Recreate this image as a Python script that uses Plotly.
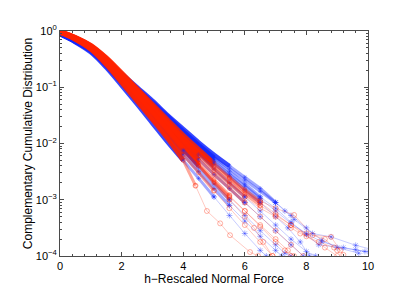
import plotly.graph_objects as go

# ---- data (y given as log10 of the CCDF value) ----
blue_x = [
    [0, .5, 1, 1.5, 2, 2.5, 3, 3.5, 4, 4.5, 5, 5.5, 6, 6.5, 7, 7.3, 7.6, 8.2, 8.8, 9.6, 10.1],
    [0, .5, 1, 1.5, 2, 2.5, 3, 3.5, 4, 4.5, 5, 5.5, 6, 6.5, 7, 7.5, 8.0, 8.4, 9.6, 10.05],
    [0, .5, 1, 1.5, 2, 2.5, 3, 3.5, 4, 4.5, 5, 5.5, 6, 6.5, 7, 7.4, 7.8, 8.1],
    [0, .5, 1, 1.5, 2, 2.5, 3, 3.5, 4, 4.5, 5, 5.5, 6, 6.5, 7, 7.5, 7.9],
    [0, .5, 1, 1.5, 2, 2.5, 3, 3.5, 4, 4.5, 5, 5.5, 6, 6.5, 7, 7.3, 7.5],
    [0, .5, 1, 1.5, 2, 2.5, 3, 3.5, 4, 4.5, 5, 5.5, 6, 6.5, 7, 7.5, 8, 8.5, 9, 9.7],
    [0, .5, 1, 1.5, 2, 2.5, 3, 3.5, 4, 4.5, 5, 5.5, 6, 6.5, 7, 7.5, 8.0, 8.3],
    [0, .5, 1, 1.5, 2, 2.5, 3, 3.5, 4, 4.5, 5, 5.5, 6, 6.5, 7, 7.2],
    [0, .5, 1, 1.5, 2, 2.5, 3, 3.5, 4, 4.5, 5, 5.5, 6, 6.5, 6.7],
    [0, .5, 1, 1.5, 2, 2.5, 3, 3.5, 4, 4.5, 5, 5.5, 6, 6.5, 7, 7.5, 8, 8.5, 9.2, 9.9],
]
blue_log10_ccdf = [
    [-0.04, -0.17, -0.31, -0.52, -0.76, -1.0, -1.24, -1.5, -1.74, -1.98, -2.2, -2.4, -2.6, -2.8, -3.05, -3.2, -3.35, -3.6, -3.66, -3.81, -3.88],
    [-0.05, -0.18, -0.33, -0.55, -0.8, -1.04, -1.3, -1.55, -1.8, -2.04, -2.28, -2.5, -2.72, -2.95, -3.15, -3.4, -3.62, -3.8, -3.89, -3.93],
    [-0.04, -0.17, -0.32, -0.55, -0.82, -1.08, -1.35, -1.62, -1.88, -2.12, -2.36, -2.58, -2.82, -3.05, -3.3, -3.5, -3.75, -4.0],
    [-0.05, -0.18, -0.34, -0.58, -0.86, -1.14, -1.42, -1.72, -2.0, -2.28, -2.55, -2.8, -3.05, -3.3, -3.55, -3.8, -4.0],
    [-0.05, -0.19, -0.35, -0.6, -0.9, -1.2, -1.5, -1.82, -2.12, -2.42, -2.72, -3.0, -3.28, -3.55, -3.8, -3.95, -4.0],
    [-0.04, -0.16, -0.31, -0.53, -0.78, -1.02, -1.27, -1.52, -1.78, -2.02, -2.25, -2.45, -2.65, -2.85, -3.05, -3.28, -3.5, -3.72, -3.85, -3.95],
    [-0.05, -0.18, -0.33, -0.56, -0.83, -1.1, -1.38, -1.66, -1.94, -2.2, -2.45, -2.7, -2.95, -3.2, -3.45, -3.7, -3.92, -4.0],
    [-0.05, -0.19, -0.36, -0.62, -0.92, -1.24, -1.56, -1.88, -2.2, -2.5, -2.8, -3.1, -3.38, -3.65, -3.9, -4.0],
    [-0.06, -0.2, -0.38, -0.65, -0.97, -1.3, -1.64, -1.98, -2.3, -2.62, -2.95, -3.28, -3.6, -3.9, -4.0],
    [-0.04, -0.17, -0.32, -0.54, -0.8, -1.05, -1.32, -1.58, -1.84, -2.08, -2.32, -2.55, -2.76, -2.98, -3.2, -3.42, -3.6, -3.75, -3.85, -3.92],
]

red_x = [
    [0, .5, 1, 1.5, 2, 2.5, 3, 3.5, 4, 4.5, 5, 5.5, 6, 6.5, 7, 7.6, 8.2, 8.8, 9.1, 9.2],
    [0, .5, 1, 1.5, 2, 2.5, 3, 3.5, 4, 4.5, 5, 5.5, 6, 6.5, 7, 7.5, 8, 8.6, 9.0],
    [0, .5, 1, 1.5, 2, 2.5, 3, 3.5, 4, 4.5, 5, 5.5, 6, 6.5, 7, 7.5, 7.9],
    [0, .5, 1, 1.5, 2, 2.5, 3, 3.5, 4, 4.5, 5, 5.5, 6, 6.5, 7, 7.4, 7.6],
    [0, .5, 1, 1.5, 2, 2.5, 3, 3.5, 4, 4.4, 4.77, 5.2, 5.52, 6.17, 6.43],
    [0, .5, 1, 1.5, 2, 2.5, 3, 3.5, 4, 4.5, 5, 5.5, 6, 6.5, 7, 7.5, 8, 8.6, 9.0],
    [0, .5, 1, 1.5, 2, 2.5, 3, 3.5, 4, 4.5, 5, 5.5, 6, 6.5, 7, 7.3, 7.5],
    [0, .5, 1, 1.5, 2, 2.5, 3, 3.5, 4, 4.5, 5, 5.5, 6, 6.5, 6.9],
    [0, .5, 1, 1.5, 2, 2.5, 3, 3.5, 4, 4.5, 5, 5.5, 6, 6.5, 7, 7.5, 7.8, 8.4, 8.9],
    [0, .5, 1, 1.5, 2, 2.5, 3, 3.5, 4, 4.5, 5, 5.5, 6, 6.3, 6.6, 6.9],
]
red_log10_ccdf = [
    [-0.01, -0.11, -0.25, -0.47, -0.74, -1.02, -1.3, -1.58, -1.85, -2.1, -2.35, -2.6, -2.82, -3.02, -3.15, -3.27, -3.63, -3.66, -3.9, -3.98],
    [-0.01, -0.12, -0.27, -0.5, -0.78, -1.06, -1.35, -1.64, -1.92, -2.18, -2.44, -2.68, -2.9, -3.1, -3.28, -3.45, -3.65, -3.85, -4.0],
    [-0.02, -0.13, -0.28, -0.52, -0.8, -1.1, -1.4, -1.7, -2.0, -2.28, -2.55, -2.8, -3.05, -3.3, -3.55, -3.8, -4.0],
    [-0.02, -0.14, -0.3, -0.55, -0.84, -1.15, -1.46, -1.78, -2.1, -2.4, -2.68, -2.95, -3.2, -3.45, -3.7, -3.9, -4.0],
    [-0.02, -0.15, -0.33, -0.6, -0.92, -1.25, -1.58, -1.92, -2.3, -2.75, -3.2, -3.42, -3.63, -3.93, -4.0],
    [-0.01, -0.12, -0.26, -0.48, -0.76, -1.04, -1.33, -1.62, -1.9, -2.15, -2.4, -2.62, -2.85, -3.05, -3.25, -3.45, -3.6, -3.7, -3.9],
    [-0.02, -0.13, -0.29, -0.53, -0.82, -1.12, -1.43, -1.74, -2.05, -2.35, -2.64, -2.92, -3.2, -3.48, -3.75, -3.9, -4.0],
    [-0.03, -0.15, -0.32, -0.58, -0.9, -1.22, -1.55, -1.88, -2.2, -2.52, -2.84, -3.15, -3.45, -3.75, -4.0],
    [-0.01, -0.11, -0.26, -0.49, -0.77, -1.06, -1.36, -1.66, -1.95, -2.22, -2.48, -2.72, -2.95, -3.15, -3.3, -3.5, -3.6, -3.75, -3.85],
    [-0.02, -0.14, -0.3, -0.54, -0.83, -1.13, -1.44, -1.76, -2.08, -2.38, -2.7, -3.0, -3.3, -3.5, -3.75, -4.0],
]

x_ticks = [0, 2, 4, 6, 8, 10]
y_tick_exponents = [-4, -3, -2, -1, 0]
x_label = "h\u2212Rescaled Normal Force"
y_label = "Complementary Cumulative Distribution"

BLUE = (20, 40, 255)
RED = (255, 35, 0)


def rgba(c, a):
    return "rgba(%d,%d,%d,%.2f)" % (c[0], c[1], c[2], a)


def pieces(xs, ls):
    ys = [10 ** v for v in ls]
    i1 = max(i for i, v in enumerate(ls) if v >= -2.4)
    i2 = max(i for i, v in enumerate(ls) if v >= -3.1)
    return (xs[: i1 + 1], ys[: i1 + 1]), (xs[i1: i2 + 1], ys[i1: i2 + 1]), (xs[i2:], ys[i2:])


fig = go.Figure()
blue_p = [pieces(x, l) for x, l in zip(blue_x, blue_log10_ccdf)]
red_p = [pieces(x, l) for x, l in zip(red_x, red_log10_ccdf)]

# dense parts
for col, plist in ((BLUE, blue_p), (RED, red_p)):
    for p in plist:
        fig.add_trace(go.Scatter(x=p[0][0], y=p[0][1], mode="lines",
                                 line=dict(color=rgba(col, 0.85), width=4.5, shape="spline"),
                                 hoverinfo="skip"))
# middle parts
for col, sym, plist in ((BLUE, "asterisk-open", blue_p), (RED, "circle-open", red_p)):
    for p in plist:
        fig.add_trace(go.Scatter(x=p[1][0], y=p[1][1], mode="lines+markers",
                                 line=dict(color=rgba(col, 0.4), width=3, shape="spline"),
                                 marker=dict(symbol=sym, size=4, color=rgba(col, 0.35),
                                             line=dict(width=1, color=rgba(col, 0.35))),
                                 hoverinfo="skip"))
# tails
for col, sym, plist in ((BLUE, "asterisk-open", blue_p), (RED, "circle-open", red_p)):
    for p in plist:
        fig.add_trace(go.Scatter(x=p[2][0], y=p[2][1], mode="lines+markers",
                                 line=dict(color=rgba(col, 0.3), width=0.8),
                                 marker=dict(symbol=sym, size=5, color=rgba(col, 0.35),
                                             line=dict(width=1, color=rgba(col, 0.35))),
                                 hoverinfo="skip"))

axis_col = "#4a4a4a"
# the page adds an 8px body margin, so the plot margins are offset by it
fig.update_layout(
    width=415, height=294,
    margin=dict(l=52, r=55, t=23, b=46, autoexpand=False),
    plot_bgcolor="white", paper_bgcolor="white",
    showlegend=False,
    font=dict(family="Liberation Sans, Arial, sans-serif", size=11, color="black"),
)
fig.update_xaxes(
    range=[0, 10], tickmode="array", tickvals=x_ticks, ticktext=[str(t) for t in x_ticks],
    ticks="inside", ticklen=4, tickcolor=axis_col, showline=True, linecolor=axis_col,
    linewidth=1, mirror="ticks", showgrid=False, zeroline=False, automargin=False,
    minor=dict(tickvals=[i * 0.4 for i in range(1, 25)], ticks="inside", ticklen=2,
               tickcolor=axis_col, showgrid=False),
    title=dict(text=x_label, standoff=0, font=dict(size=12)),
)
fig.update_yaxes(
    type="log", range=[-4, 0], tickmode="array",
    tickvals=[10 ** e for e in y_tick_exponents],
    ticktext=["10<sup>%s</sup>" % (str(e).replace("-", "\u2212")) for e in y_tick_exponents],
    ticks="inside", ticklen=4, tickcolor=axis_col, showline=True, linecolor=axis_col,
    linewidth=1, mirror="ticks", showgrid=False, zeroline=False, automargin=False,
    minor=dict(tickvals=[m * 10 ** e for e in range(-4, 0) for m in range(2, 10)],
               ticks="inside", ticklen=2, tickcolor=axis_col, showgrid=False),
    title=dict(text=y_label, standoff=0, font=dict(size=12)),
)

fig.write_html("out.html")
